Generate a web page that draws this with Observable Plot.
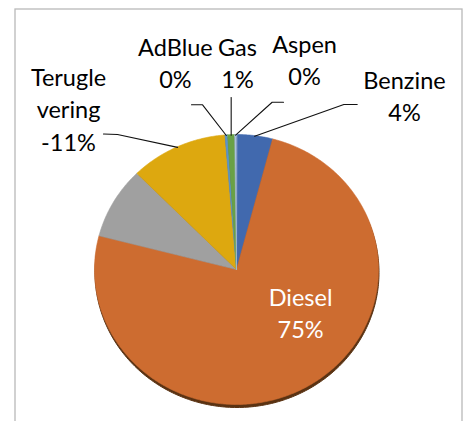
<!DOCTYPE html>
<html><head><meta charset="utf-8">
<script src="https://cdn.jsdelivr.net/npm/d3@7"></script>
<script src="https://cdn.jsdelivr.net/npm/@observablehq/plot@0.6"></script>
<style>body{margin:0;background:#fff;} svg{display:block;}</style>
</head><body><div id="chart"></div>
<script>
// ---- data ----
const categories = ["Benzine", "Diesel", "", "Teruglevering", "AdBlue", "Gas", "Aspen"];
const values = [4.1, 75.0, 8.6, -11.1, 0.3, 0.8, 0.2];

// ---- styling / layout config ----
const palette = ["#4169AE", "#CD6C30", "#A0A0A0", "#DDA80F", "#5B93CC", "#69A146", "#A9C0DE"];
const labelLayout = {
  Benzine:       {at: [1.183, 1.099], from: [0.850, 1.222], elbow: [0.756, 1.222]},
  Diesel:        {at: [0.451, -0.511], inside: true},
  Teruglevering: {at: [-1.183, 0.881], wrap: 7, from: [-0.937, 1.004], elbow: [-0.838, 1.0]},
  AdBlue:        {at: [-0.430, 1.341], from: [-0.317, 1.220], elbow: [-0.239, 1.220]},
  Gas:           {at: [0.007, 1.341], from: [null, 1.274]},
  Aspen:         {at: [0.479, 1.363], from: [0.331, 1.239], elbow: [0.251, 1.239]}
};
const fontSize = 23.5;

const rows = categories.map((name, i) => ({key: i, name, value: values[i]}));
const arcs = d3.pie().sort(null).value(d => Math.abs(d.value))(rows);
const pt = (a, r = 1) => ({x: r * Math.sin(a), y: r * Math.cos(a)});

// slice polygons
const slicePts = [];
for (const a of arcs) {
  const k = a.data.key;
  slicePts.push({key: k, x: 0, y: 0});
  const n = Math.max(2, Math.ceil((a.endAngle - a.startAngle) / (Math.PI / 360)));
  for (let j = 0; j <= n; ++j) {
    const p = pt(a.startAngle + (a.endAngle - a.startAngle) * j / n);
    slicePts.push({key: k, ...p});
  }
}
const ellipsePts = d3.range(0, 361, 1).map(d => pt(d * Math.PI / 180));

// labels and leader lines
const labelRows = [], leaderPts = [];
for (const a of arcs) {
  const d = a.data, L = labelLayout[d.name];
  if (!L) continue;
  let name = d.name;
  if (L.wrap) name = name.slice(0, L.wrap) + "\n" + name.slice(L.wrap);
  labelRows.push({x: L.at[0], y: L.at[1], text: name + "\n" + Math.round(d.value) + "%", inside: !!L.inside});
  if (L.from) {
    const edge = pt((a.startAngle + a.endAngle) / 2, 0.995);
    leaderPts.push({name: d.name, x: L.from[0] ?? edge.x, y: L.from[1]});
    if (L.elbow) leaderPts.push({name: d.name, x: L.elbow[0], y: L.elbow[1]});
    leaderPts.push({name: d.name, ...edge});
  }
}

const chart = Plot.plot({
  width: 465, height: 421,
  marginLeft: 14.5, marginTop: 8.5, marginRight: 3.5, marginBottom: -4,
  x: {domain: [-1, 1], range: [94, 378], axis: null},
  y: {domain: [-1, 1], range: [404, 134], axis: null},
  color: {type: "ordinal", domain: categories.map((_, i) => i), range: palette},
  style: {background: "white", fontFamily: "Lato"},
  marks: [
    Plot.frame({stroke: "#b9b9b9", strokeWidth: 1.3}),
    Plot.line(ellipsePts, {x: "x", y: "y", fill: "#5a3212", stroke: "#5a3212", strokeWidth: 1, dx: 0.5, dy: 3, curve: "linear-closed"}),
    Plot.line(slicePts, {x: "x", y: "y", z: "key", fill: "key", stroke: "key", strokeWidth: 0.6, curve: "linear-closed"}),
    Plot.line(leaderPts, {x: "x", y: "y", z: "name", stroke: "#111", strokeWidth: 1.1}),
    Plot.text(labelRows, {x: "x", y: "y", text: "text", fill: d => d.inside ? "#ffffff" : "#000000",
      fontSize, fontFamily: "Lato", lineAnchor: "bottom", lineHeight: 32.3 / fontSize, textAnchor: "middle"})
  ]
});
document.getElementById("chart").append(chart);
</script>
</body></html>
